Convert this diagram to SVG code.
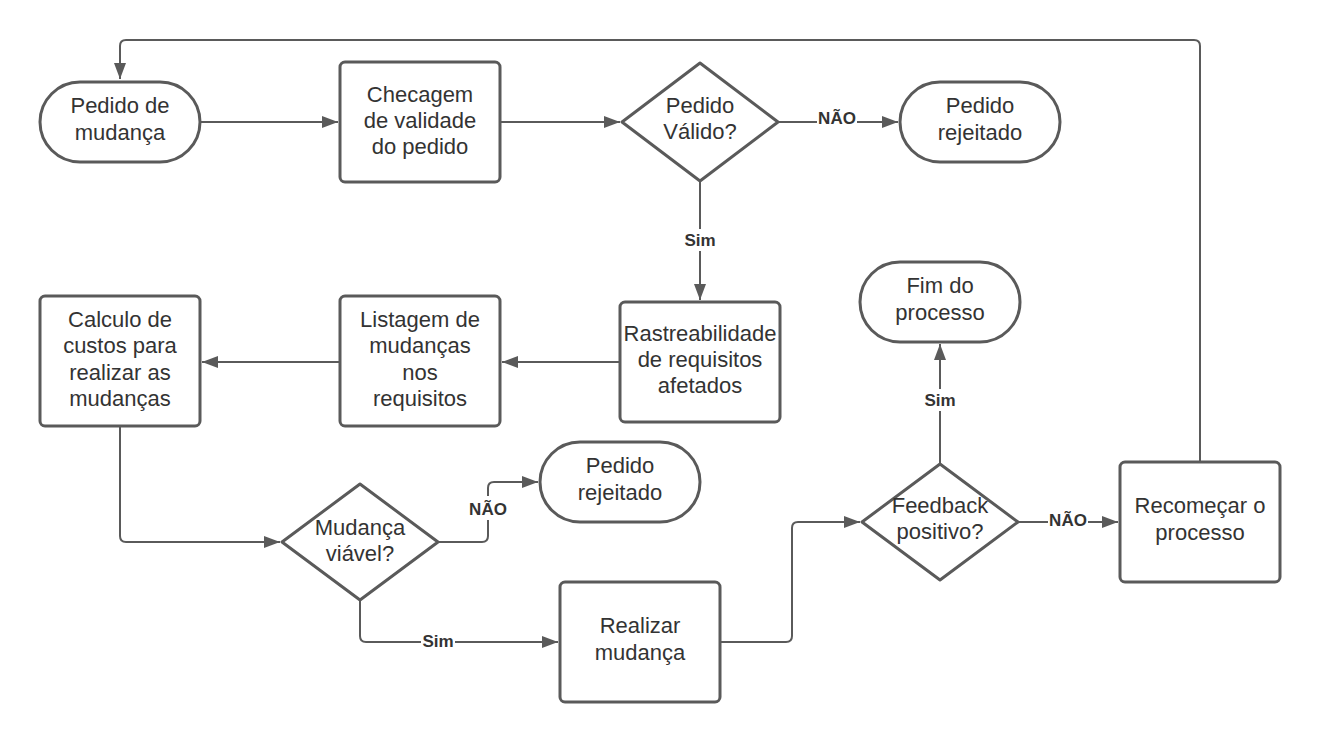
<svg xmlns="http://www.w3.org/2000/svg" width="1320" height="743" viewBox="0 0 1320 743">
<style>
.n{fill:#fff;stroke:#5a5a5a;stroke-width:3}
.t{font-family:"Liberation Sans",Arial,sans-serif;font-size:22px;fill:#333;text-anchor:middle}
.c{fill:none;stroke:#5a5a5a;stroke-width:2}
.l{font-family:"Liberation Sans",Arial,sans-serif;font-size:17px;font-weight:bold;fill:#333;text-anchor:middle}
.bg{fill:#fff}
</style>
<defs>
<marker id="a" viewBox="0 0 16 12" refX="16" refY="6" markerWidth="16" markerHeight="12" markerUnits="userSpaceOnUse" orient="auto">
<path d="M0,0 L16,6 L0,12 Z" fill="#5a5a5a"/>
</marker>
</defs>
<rect width="1320" height="743" fill="#fff"/>
<g id="connectors">
<path class="c" d="M200,122 H338" marker-end="url(#a)"/>
<path class="c" d="M500,122 H620" marker-end="url(#a)"/>
<path class="c" d="M778,122 H898" marker-end="url(#a)"/>
<path class="c" d="M700,182 V300" marker-end="url(#a)"/>
<path class="c" d="M620,362 H502" marker-end="url(#a)"/>
<path class="c" d="M340,362 H202" marker-end="url(#a)"/>
<path class="c" d="M120,426 V536 Q120,542 126,542 H280" marker-end="url(#a)"/>
<path class="c" d="M438,542 H482 Q488,542 488,536 V488 Q488,482 494,482 H538" marker-end="url(#a)"/>
<path class="c" d="M360,600 V636 Q360,642 366,642 H558" marker-end="url(#a)"/>
<path class="c" d="M720,642 H786 Q792,642 792,636 V528 Q792,522 798,522 H860" marker-end="url(#a)"/>
<path class="c" d="M940,463 V344" marker-end="url(#a)"/>
<path class="c" d="M1018,522 H1118" marker-end="url(#a)"/>
<path class="c" d="M1200,462 V46 Q1200,40 1194,40 H126 Q120,40 120,46 V79" marker-end="url(#a)"/>
<rect class="bg" x="817" y="110" width="40" height="20"/>
<text class="l" x="837" y="124">NÃO</text>
<rect class="bg" x="683" y="229" width="34" height="22"/>
<text class="l" x="700" y="246">Sim</text>
<rect class="bg" x="468" y="496" width="40" height="24"/>
<text class="l" x="488" y="515">NÃO</text>
<rect class="bg" x="421" y="632" width="34" height="20"/>
<text class="l" x="438" y="647">Sim</text>
<rect class="bg" x="923" y="389" width="34" height="22"/>
<text class="l" x="940" y="406">Sim</text>
<rect class="bg" x="1048" y="512" width="40" height="20"/>
<text class="l" x="1068" y="526">NÃO</text>
</g>
<g id="pedido-mudanca">
<rect class="n" x="40" y="82" width="160" height="80" rx="40"/>
<text class="t"><tspan x="120" y="113">Pedido de</tspan><tspan x="120" y="140">mudança</tspan></text>
</g>
<g id="checagem">
<rect class="n" x="340" y="62" width="160" height="120" rx="5"/>
<text class="t"><tspan x="420" y="102">Checagem</tspan><tspan x="420" y="128">de validade</tspan><tspan x="420" y="154">do pedido</tspan></text>
</g>
<g id="pedido-valido">
<path class="n" d="M700,63 L778,122 L700,181 L622,122 Z" stroke-linejoin="round"/>
<text class="t"><tspan x="700" y="113">Pedido</tspan><tspan x="700" y="139">Válido?</tspan></text>
</g>
<g id="pedido-rejeitado-1">
<rect class="n" x="900" y="82" width="160" height="80" rx="40"/>
<text class="t"><tspan x="980" y="113">Pedido</tspan><tspan x="980" y="140">rejeitado</tspan></text>
</g>
<g id="rastreabilidade">
<rect class="n" x="620" y="302" width="160" height="120" rx="5"/>
<text class="t"><tspan x="700" y="341">Rastreabilidade</tspan><tspan x="700" y="367">de requisitos</tspan><tspan x="700" y="393">afetados</tspan></text>
</g>
<g id="listagem">
<rect class="n" x="340" y="296" width="160" height="130" rx="5"/>
<text class="t"><tspan x="420" y="327">Listagem de</tspan><tspan x="420" y="353">mudanças</tspan><tspan x="420" y="380">nos</tspan><tspan x="420" y="406">requisitos</tspan></text>
</g>
<g id="calculo">
<rect class="n" x="40" y="296" width="160" height="130" rx="5"/>
<text class="t"><tspan x="120" y="327">Calculo de</tspan><tspan x="120" y="353">custos para</tspan><tspan x="120" y="380">realizar as</tspan><tspan x="120" y="406">mudanças</tspan></text>
</g>
<g id="mudanca-viavel">
<path class="n" d="M360,484 L438,542 L360,600 L282,542 Z" stroke-linejoin="round"/>
<text class="t"><tspan x="360" y="535">Mudança</tspan><tspan x="360" y="561">viável?</tspan></text>
</g>
<g id="pedido-rejeitado-2">
<rect class="n" x="540" y="442" width="160" height="80" rx="40"/>
<text class="t"><tspan x="620" y="473">Pedido</tspan><tspan x="620" y="500">rejeitado</tspan></text>
</g>
<g id="realizar">
<rect class="n" x="560" y="582" width="160" height="120" rx="5"/>
<text class="t"><tspan x="640" y="633">Realizar</tspan><tspan x="640" y="660">mudança</tspan></text>
</g>
<g id="feedback">
<path class="n" d="M940,464 L1018,522 L940,580 L862,522 Z" stroke-linejoin="round"/>
<text class="t"><tspan x="940" y="513">Feedback</tspan><tspan x="940" y="539">positivo?</tspan></text>
</g>
<g id="fim">
<rect class="n" x="860" y="262" width="160" height="80" rx="40"/>
<text class="t"><tspan x="940" y="293">Fim do</tspan><tspan x="940" y="320">processo</tspan></text>
</g>
<g id="recomecar">
<rect class="n" x="1120" y="462" width="160" height="120" rx="5"/>
<text class="t"><tspan x="1200" y="513">Recomeçar o</tspan><tspan x="1200" y="540">processo</tspan></text>
</g>
</svg>
